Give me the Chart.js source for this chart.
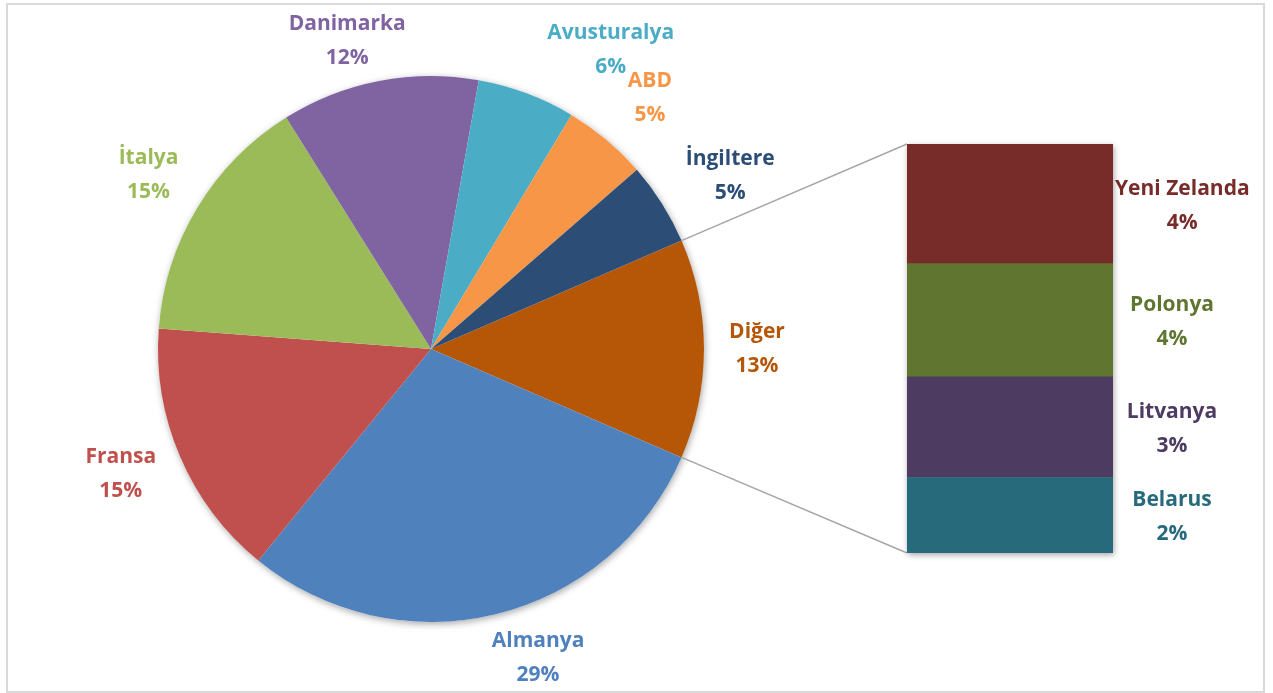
<!DOCTYPE html>
<html>
<head>
<meta charset="utf-8">
<script src="https://cdn.jsdelivr.net/npm/chart.js@4.4.0/dist/chart.umd.min.js"></script>
<style>
body { margin: 0; background: #fff; }
#wrap { position: relative; width: 1273px; height: 693px; overflow: hidden; }
#frame { position: absolute; left: 6px; top: 3px; width: 1255px; height: 686px; border: 2px solid #d9d9d9; }
canvas { position: absolute; left: 0; top: 0; }
</style>
</head>
<body>
<div id="wrap">
    <div id="frame"></div>
    <canvas id="pie" width="1273" height="693"></canvas>
    <canvas id="bar" width="1273" height="693"></canvas>
</div>
<script>
// pie: ilk dilim "Diğer", saat yönünde devam
const pieLabels = ['Diğer', 'Almanya', 'Fransa', 'İtalya', 'Danimarka', 'Avusturalya', 'ABD', 'İngiltere'];
const pieValues = [13.0, 29.4, 15.3, 14.9, 11.7, 5.8, 5.0, 4.9];
const pieColors = ['#B65708', '#4F81BD', '#C0504D', '#9BBB59', '#8064A2', '#4BACC6', '#F79646', '#2C4D75'];

// bar: ustten alta
const barLabels = ['Yeni Zelanda', 'Polonya', 'Litvanya', 'Belarus'];
const barValues = [3.8, 3.6, 3.2, 2.4];
const barColors = ['#772C2A', '#5F7530', '#4D3B62', '#276A7C'];

// label yerleri icin kucuk kaydirmalar (px)
const labelNudge = [[-4, 0], [29, -12], [-7, -5], [0, -3], [-21, 16], [64, 10], [7, 2], [20, 3]];

const FONT = 'bold 21px "Open Sans", Lato, sans-serif';
const total = pieValues.reduce((a, b) => a + b, 0);
const pct = v => Math.round(v / total * 100 + 1e-9) + '%';

function drawTwoLines(ctx, x, y, a, b, color) {
    ctx.save();
    ctx.font = FONT;
    ctx.fillStyle = color;
    ctx.textAlign = 'center';
    ctx.textBaseline = 'middle';
    ctx.fillText(a, x, y - 17);
    ctx.fillText(b, x, y + 17);
    ctx.restore();
}

const pieExtras = {
    id: 'pieExtras',
    beforeDatasetsDraw(chart) {
        const arc = chart.getDatasetMeta(0).data[0];
        const ctx = chart.ctx;
        ctx.save();
        ctx.shadowColor = 'rgba(0,0,0,0.35)';
        ctx.shadowBlur = 7;
        ctx.shadowOffsetX = 1;
        ctx.shadowOffsetY = 2;
        ctx.fillStyle = '#fff';
        ctx.beginPath();
        ctx.arc(arc.x, arc.y, arc.outerRadius, 0, Math.PI * 2);
        ctx.fill();
        ctx.restore();
    },
    afterDatasetsDraw(chart) {
        const meta = chart.getDatasetMeta(0);
        for (let i = 0; i < meta.data.length; i++) {
            const p = meta.data[i].getProps(['x', 'y', 'startAngle', 'endAngle', 'outerRadius'], true);
            const mid = (p.startAngle + p.endAngle) / 2;
            const d = p.outerRadius + 57;
            const lx = p.x + Math.cos(mid) * d + labelNudge[i][0];
            const ly = p.y + Math.sin(mid) * d + labelNudge[i][1];
            drawTwoLines(chart.ctx, lx, ly, pieLabels[i], pct(pieValues[i]), pieColors[i]);
        }
    }
};

const pieChart = new Chart(document.getElementById('pie'), {
    type: 'pie',
    data: {
        labels: pieLabels,
        datasets: [{
            data: pieValues,
            backgroundColor: pieColors,
            borderWidth: 0
        }]
    },
    options: {
        responsive: false,
        animation: false,
        rotation: 90 - (pieValues[0] / total * 360) / 2,
        layout: { padding: { left: 158, right: 569, top: 76, bottom: 71 } },
        plugins: { legend: { display: false }, tooltip: { enabled: false } }
    },
    plugins: [pieExtras]
});

const barExtras = {
    id: 'barExtras',
    beforeDatasetsDraw(chart) {
        const n = chart.data.datasets.length;
        const top = chart.getDatasetMeta(n - 1).data[0];
        const bottom = chart.getDatasetMeta(0).data[0];
        const ctx = chart.ctx;
        ctx.save();
        ctx.shadowColor = 'rgba(0,0,0,0.35)';
        ctx.shadowBlur = 6;
        ctx.shadowOffsetX = 1;
        ctx.shadowOffsetY = 2;
        ctx.fillStyle = '#fff';
        ctx.fillRect(top.x - top.width / 2, top.y, top.width, bottom.base - top.y);
        ctx.restore();

        // baglanti cizgileri
        const arc = pieChart.getDatasetMeta(0).data[0].getProps(['x', 'y', 'startAngle', 'endAngle', 'outerRadius'], true);
        const left = top.x - top.width / 2;
        ctx.save();
        ctx.strokeStyle = '#a6a6a6';
        ctx.lineWidth = 1.5;
        ctx.beginPath();
        ctx.moveTo(arc.x + Math.cos(arc.startAngle) * arc.outerRadius, arc.y + Math.sin(arc.startAngle) * arc.outerRadius);
        ctx.lineTo(left, top.y);
        ctx.moveTo(arc.x + Math.cos(arc.endAngle) * arc.outerRadius, arc.y + Math.sin(arc.endAngle) * arc.outerRadius);
        ctx.lineTo(left, bottom.base);
        ctx.stroke();
        ctx.restore();
    },
    afterDatasetsDraw(chart) {
        const ctx = chart.ctx;
        ctx.save();
        ctx.font = FONT;
        chart.data.datasets.forEach((ds, i) => {
            const el = chart.getDatasetMeta(i).data[0];
            const right = el.x + el.width / 2;
            const cy = (el.y + el.base) / 2 + 2;
            const w = ctx.measureText(ds.label).width;
            let cx = right + 59;
            if (cx - w / 2 < right + 2) cx = right + 2 + w / 2;
            drawTwoLines(ctx, cx, cy, ds.label, pct(ds.data[0]), ds.backgroundColor);
        });
        ctx.restore();
    }
};

// yigilmis cubuk: ilk dataset en altta
const barDatasets = [];
for (let i = barLabels.length - 1; i >= 0; i--) {
    barDatasets.push({
        label: barLabels[i],
        data: [barValues[i]],
        backgroundColor: barColors[i],
        borderWidth: 0,
        barPercentage: 1,
        categoryPercentage: 1
    });
}

const barChart = new Chart(document.getElementById('bar'), {
    type: 'bar',
    data: { labels: ['Diğer'], datasets: barDatasets },
    options: {
        responsive: false,
        animation: false,
        layout: { padding: { left: 907, right: 160, top: 144, bottom: 140 } },
        scales: {
            x: { stacked: true, display: false },
            y: { stacked: true, display: false, min: 0, max: barValues.reduce((a, b) => a + b, 0) }
        },
        plugins: { legend: { display: false }, tooltip: { enabled: false } }
    },
    plugins: [barExtras]
});
</script>
</body>
</html>
